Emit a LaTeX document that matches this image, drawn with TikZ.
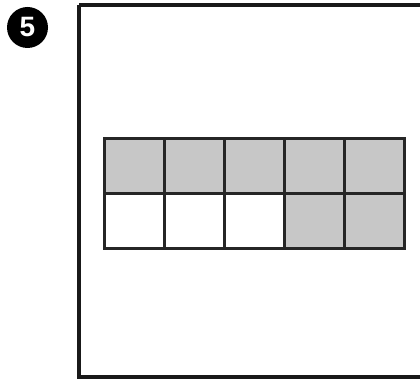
\documentclass[tikz,border=0pt]{standalone}
\usepackage{fontspec}
\setsansfont{Liberation Sans}
\begin{document}
\begin{tikzpicture}[x=1pt,y=-1pt,
  cellbox/.style={draw=black!85,line width=3pt,minimum width=60pt,minimum height=55pt,inner sep=0pt,anchor=north west},
  shaded/.style={fill=black!22},
  badge/.style={circle,fill=black,text=white,minimum size=41pt,inner sep=0pt,font=\sffamily\bfseries\fontsize{28}{28}\selectfont}]
\useasboundingbox (0,0) rectangle (420,379);
\clip (0,0) rectangle (420,379);
\node[badge] (num) at (27.5,27.5) {5};
\draw[line width=3.6pt,black!90] (79,5) -- (430,5) (79,5) -- (79,377) -- (430,377);
\foreach \c in {0,...,4}{
  \node[cellbox,shaded] (t\c) at (103+60*\c,137) {};
}
\foreach \c in {0,1,2}{
  \node[cellbox] (b\c) at (103+60*\c,192) {};
}
\foreach \c in {3,4}{
  \node[cellbox,shaded] (b\c) at (103+60*\c,192) {};
}
\end{tikzpicture}
\end{document}
